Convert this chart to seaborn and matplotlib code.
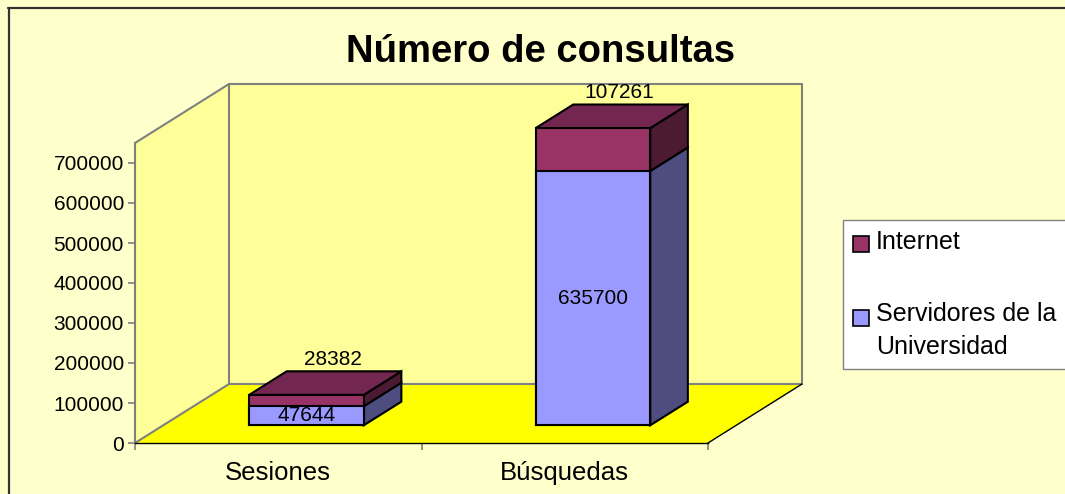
import numpy as np
import pandas as pd
import seaborn as sns
import matplotlib.pyplot as plt
from matplotlib.patches import Polygon, Rectangle
from matplotlib.lines import Line2D
from matplotlib.transforms import ScaledTranslation

# datos
categorias = ['Sesiones', 'Búsquedas']
servidores = [47644, 635700]
internet = [28382, 107261]
series = ['Internet', 'Servidores de la\nUniversidad']
yticks = [0, 100000, 200000, 300000, 400000, 500000, 600000, 700000]

W, H = 1065, 494
DX, DY = 94, 59          # profundidad del cubo en pixeles
F0, F1 = 0.3, 0.7        # profundidad ocupada por las barras

rojo, rojo_top, rojo_lado = '#993366', '#732650', '#4D1A33'
azul, azul_lado = '#9999FF', '#4D4D80'

sns.set_theme(style='white')
plt.rcParams['font.family'] = ['Liberation Sans', 'DejaVu Sans']
plt.rcParams['text.color'] = 'black'

fig = plt.figure(figsize=(W / 100, H / 100), dpi=100, facecolor='#FFFFCC')
ax = fig.add_axes([135 / W, 51 / H, 573 / W, 300 / H])
ax.set_xlim(-0.5, 1.5)
ax.set_ylim(0, 750000)
ax.patch.set_visible(False)

inv = fig.transFigure.inverted()


def poly(pts, **kw):
    p = Polygon(inv.transform(np.array(pts)), closed=True, transform=fig.transFigure,
                clip_on=False, **kw)
    ax.add_patch(p)
    return p


def line(pts, **kw):
    pts = inv.transform(np.array(pts))
    ax.add_line(Line2D(pts[:, 0], pts[:, 1], transform=fig.transFigure, clip_on=False, **kw))


def disp(x, y, f):
    d = ax.transData.transform((x, y))
    return (d[0] + f * DX, d[1] + f * DY)


# barras (caras frontales)
df = pd.DataFrame({'categoria': categorias, 'servidores': servidores, 'internet': internet})
df['total'] = df['servidores'] + df['internet']
sns.barplot(data=df, x='categoria', y='total', color=rojo, saturation=1, width=0.4,
            errorbar=None, edgecolor='black', linewidth=1.5, ax=ax, zorder=2)
sns.barplot(data=df, x='categoria', y='servidores', color=azul, saturation=1, width=0.4,
            errorbar=None, edgecolor='black', linewidth=1.5, ax=ax, zorder=2)
ax.set_xlim(-0.5, 1.5)
ax.set_ylim(0, 750000)

barras = [p for p in ax.patches if isinstance(p, Rectangle)]
totales, bases = barras[:2], barras[2:4]
shift = ax.transData + ScaledTranslation(F0 * DX / 100, F0 * DY / 100, fig.dpi_scale_trans)
for p in barras:
    p.set_transform(shift)
    p.set_clip_on(False)

# paredes y suelo
x0, y0 = ax.transAxes.transform((0, 0))
x1, y1 = ax.transAxes.transform((1, 1))
poly([(x0 + DX, y0 + DY), (x1 + DX, y0 + DY), (x1 + DX, y1 + DY), (x0 + DX, y1 + DY)],
     facecolor='#FFFF99', edgecolor='none', zorder=0.2)
poly([(x0, y0), (x0, y1), (x0 + DX, y1 + DY), (x0 + DX, y0 + DY)],
     facecolor='#FFFF99', edgecolor='none', zorder=0.2)
poly([(x0, y0), (x1, y0), (x1 + DX, y0 + DY), (x0 + DX, y0 + DY)],
     facecolor='#FFFF00', edgecolor='none', zorder=0.3)
gris = dict(color='#808080', lw=1.5, zorder=0.4)
line([(x0, y1), (x0 + DX, y1 + DY), (x1 + DX, y1 + DY), (x1 + DX, y0 + DY)], **gris)
line([(x0, y0), (x0 + DX, y0 + DY), (x0 + DX, y1 + DY)], **gris)
line([(x0 + DX, y0 + DY), (x1 + DX, y0 + DY)], **gris)
line([(x1, y0), (x1 + DX, y0 + DY)], color='black', lw=1, zorder=0.4)

kw = dict(edgecolor='black', lw=1.5, zorder=1.5)
for pt, pb in zip(totales, bases):
    xl, xr = pt.get_x(), pt.get_x() + pt.get_width()
    tot, base = pt.get_height(), pb.get_height()
    # lados
    poly([disp(xr, 0, F0), disp(xr, base, F0), disp(xr, base, F1), disp(xr, 0, F1)],
         facecolor=azul_lado, **kw)
    poly([disp(xr, base, F0), disp(xr, tot, F0), disp(xr, tot, F1), disp(xr, base, F1)],
         facecolor=rojo_lado, **kw)
    # tapa
    poly([disp(xl, tot, F0), disp(xr, tot, F0), disp(xr, tot, F1), disp(xl, tot, F1)],
         facecolor=rojo_top, **kw)
    # etiquetas
    xc = (xl + xr) / 2
    cx, cy = disp(xc, base / 2, F0)
    ax.text(*inv.transform((cx, cy)), f'{int(base)}', transform=fig.transFigure,
            ha='center', va='center', fontsize=15, color='black', zorder=3)
    tx, ty = disp(xc, tot, (F0 + F1) / 2)
    ax.text(*inv.transform((tx + 8, ty + 24)), f'{int(round(tot - base))}',
            transform=fig.transFigure, ha='center', va='center', fontsize=15,
            color='black', zorder=3)

# ejes
for s in ['top', 'right']:
    ax.spines[s].set_visible(False)
ax.spines['left'].set_color('#808080')
ax.spines['left'].set_linewidth(1.5)
ax.spines['bottom'].set_color('black')
ax.spines['bottom'].set_linewidth(1)
ax.set_yticks(yticks, [str(v) for v in yticks])
ax.tick_params(axis='y', left=True, length=5, width=1.2, color='#808080', pad=3,
               labelsize=15, labelcolor='black')
ax.set_xticks([0, 1], categorias)
ax.set_xticks([-0.5, 0.5, 1.5], minor=True)
ax.tick_params(axis='x', which='major', length=0, pad=13, labelsize=18.5, labelcolor='black')
ax.tick_params(axis='x', which='minor', bottom=True, length=5, width=1.2, color='#808080')
ax.set_xlabel('')
ax.set_ylabel('')

# titulo
fig.text(541 / W, 1 - 52 / H, 'Número de consultas', ha='center', va='center',
         fontsize=27.5, fontweight='bold', color='black')

# leyenda
fig.patches.append(Rectangle((843 / W, 1 - 369 / H), 240 / W, 149 / H, transform=fig.transFigure,
                             facecolor='white', edgecolor='#808080', lw=1, zorder=5))
fig.patches.append(Rectangle((853 / W, 1 - 252 / H), 16 / W, 16 / H, transform=fig.transFigure,
                             facecolor=rojo, edgecolor='black', lw=1.2, zorder=6))
fig.patches.append(Rectangle((853 / W, 1 - 326 / H), 16 / W, 16 / H, transform=fig.transFigure,
                             facecolor=azul, edgecolor='black', lw=1.2, zorder=6))
fig.text(876 / W, 1 - 242 / H, series[0], ha='left', va='center', fontsize=18,
         color='black', zorder=6)
fig.text(876 / W, 1 - 302 / H, series[1], ha='left', va='top', fontsize=18,
         linespacing=1.45, color='black', zorder=6)

# marco
fig.add_artist(Line2D([8 / W, 1], [1 - 8 / H, 1 - 8 / H], color='#333333', lw=1.6))
fig.add_artist(Line2D([9 / W, 9 / W], [0, 1 - 8 / H], color='#333333', lw=1.6))

fig.savefig('out.png', dpi=100, facecolor=fig.get_facecolor())
